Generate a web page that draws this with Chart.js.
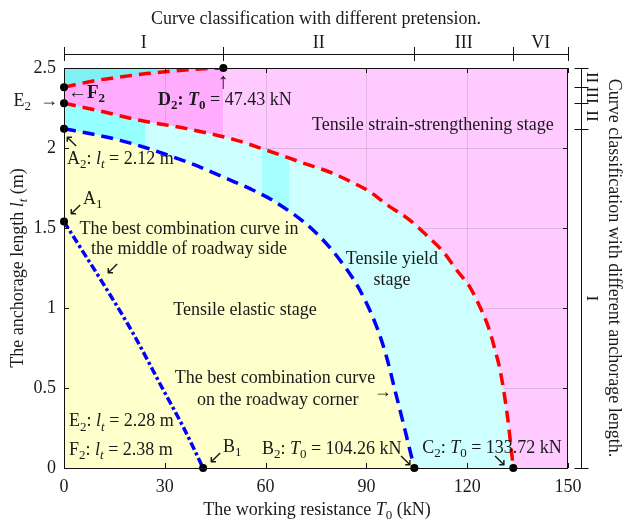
<!DOCTYPE html>
<html>
<head>
<meta charset="utf-8">
<script src="https://cdn.jsdelivr.net/npm/chart.js@4.4.1/dist/chart.umd.min.js"></script>
<style>
  html, body { margin: 0; padding: 0; background: #fff; }
  canvas { display: block; }
</style>
</head>
<body>
<canvas id="c" width="625" height="522"></canvas>
<script>
// Working resistance T0 (kN) against anchorage length lt (m)
const xTicks = [0, 30, 60, 90, 120, 150];
const yTicks = [0, 0.5, 1, 1.5, 2, 2.5];

// Upper boundary of the strain-strengthening band (F2 -> D2)
const curveF2D2_T = [0, 8.7, 16.7, 24.6, 32.5, 40.5, 47.43];
const curveF2D2_L = [2.38, 2.419, 2.444, 2.465, 2.481, 2.494, 2.5];

// Boundary between yield and strain-strengthening stages (E2 -> C2)
const curveE2C2_T = [0, 9.7, 22.6, 36.5, 51.4, 60.3, 71.2, 79, 85.6, 91.1, 96.5, 103, 107.9, 112.9, 116.9, 120.8, 123.8, 126.3, 128.3, 129.9, 132.0, 133.72];
const curveE2C2_L = [2.28, 2.236, 2.173, 2.121, 2.048, 1.986, 1.906, 1.85, 1.787, 1.725, 1.64, 1.548, 1.454, 1.35, 1.236, 1.131, 1.006, 0.881, 0.736, 0.6, 0.32, 0];

// Best combination curve on the roadway corner (A2 -> B2)
const curveA2B2_T = [0, 8.7, 16.7, 24.6, 32.5, 40.5, 48.4, 56.3, 62.3, 74.2, 82.1, 88.1, 93.1, 96, 98.5, 101, 103.2, 104.26];
const curveA2B2_L = [2.12, 2.086, 2.048, 2.0, 1.944, 1.881, 1.809, 1.736, 1.67, 1.486, 1.30, 1.11, 0.88, 0.694, 0.486, 0.278, 0.09, 0];

// Best combination curve in the middle of roadway side (A1 -> B1)
const curveA1B1_T = [0, 4.8, 10.7, 20.6, 29.6, 35.5, 41.4];
const curveA1B1_L = [1.54, 1.38, 1.185, 0.84, 0.486, 0.256, 0];

// Key points
const keyNames = ['A1', 'A2', 'E2', 'F2', 'D2', 'B1', 'B2', 'C2'];
const keyT = [0, 0, 0, 0, 47.43, 41.4, 104.26, 133.72];
const keyL = [1.54, 2.12, 2.28, 2.38, 2.5, 0, 0, 0];

// Classification by pretension (top) and by anchorage length (right)
const pretensionBounds = [0, 47.43, 104.26, 133.72, 150];
const pretensionLabels = ['I', 'II', 'III', 'VI'];
const anchorBounds = [2.5, 2.38, 2.28, 2.12, 0];
const anchorLabels = ['II', 'III', 'II', 'I'];

const FAM = '"Liberation Serif", "Times New Roman", Times, serif';
const INK = '#1a1a1a';
const FS = 18;

const pts = (xs, ys) => xs.map((x, i) => ({ x, y: ys[i] }));
const key = (n) => keyNames.indexOf(n);
const fmt = (v) => v.toFixed(2);

// Text in rich parts: [text, flags] with flags i = italic, b = bold, s = subscript
function drawRich(ctx, parts, x, y, align, size) {
  const fontFor = (f) => {
    const sz = f.includes('s') ? Math.round(size * 0.7) : size;
    return (f.includes('i') ? 'italic ' : '') + (f.includes('b') ? 'bold ' : '') + sz + 'px ' + FAM;
  };
  let w = 0;
  parts.forEach(([t, f = '']) => { ctx.font = fontFor(f); w += ctx.measureText(t).width; });
  let cx = align === 'center' ? x - w / 2 : align === 'right' ? x - w : x;
  ctx.textAlign = 'left';
  ctx.textBaseline = 'middle';
  ctx.fillStyle = INK;
  parts.forEach(([t, f = '']) => {
    ctx.font = fontFor(f);
    ctx.fillText(t, cx, y + (f.includes('s') ? size * 0.32 : 0));
    cx += ctx.measureText(t).width;
  });
}

function drawRotated(ctx, parts, x, y, angle, size) {
  ctx.save();
  ctx.translate(x, y);
  ctx.rotate(angle);
  drawRich(ctx, parts, 0, 0, 'center', size);
  ctx.restore();
}

// Annotations anchored in data units (T in kN, l in m)
const notes = [
  { T: 1.19, L: 2.344, a: 'left', size: 19, p: [['←'], ['F', 'b'], ['2', 'bs']] },
  { T: -1.79, L: 2.294, a: 'right', p: [['E'], ['2', 's'], ['  →']] },
  { T: keyT[key('D2')], L: 2.41, a: 'center', size: 22, p: [['↑']] },
  { T: 27.98, L: 2.30, a: 'left', p: [['D', 'b'], ['2', 'bs'], [': ', 'b'], ['T', 'bi'], ['0', 'bs'], [' = ' + fmt(keyT[key('D2')]) + ' kN']] },
  { T: 2.38, L: 2.0375, a: 'center', p: [['↖']] },
  { T: 0.89, L: 1.931, a: 'left', p: [['A'], ['2', 's'], [': '], ['l', 'i'], ['t', 'is'], [' = ' + fmt(keyL[key('A2')]) + ' m']] },
  { T: 5.65, L: 1.681, a: 'left', p: [['A'], ['1', 's']] },
  { T: 3.57, L: 1.6125, a: 'center', p: [['↙']] },
  { T: 37.2, L: 1.494, a: 'center', p: [['The best combination curve in']] },
  { T: 37.2, L: 1.369, a: 'center', p: [['the middle of roadway side']] },
  { T: 14.29, L: 1.244, a: 'center', p: [['↙']] },
  { T: 53.87, L: 0.9875, a: 'center', p: [['Tensile elastic stage']] },
  { T: 109.8, L: 2.144, a: 'center', p: [['Tensile strain-strengthening stage']] },
  { T: 97.6, L: 1.306, a: 'center', p: [['Tensile yield']] },
  { T: 97.6, L: 1.175, a: 'center', p: [['stage']] },
  { T: 62.8, L: 0.5625, a: 'center', p: [['The best combination curve']] },
  { T: 63.6, L: 0.425, a: 'center', p: [['on the roadway corner']] },
  { T: 94.9, L: 0.475, a: 'center', p: [['→']] },
  { T: 1.5, L: 0.29, a: 'left', p: [['E'], ['2', 's'], [': '], ['l', 'i'], ['t', 'is'], [' = ' + fmt(keyL[key('E2')]) + ' m']] },
  { T: 1.5, L: 0.1125, a: 'left', p: [['F'], ['2', 's'], [': '], ['l', 'i'], ['t', 'is'], [' = ' + fmt(keyL[key('F2')]) + ' m']] },
  { T: 45.2, L: 0.0625, a: 'center', p: [['↙']] },
  { T: 47.3, L: 0.131, a: 'left', p: [['B'], ['1', 's']] },
  { T: 58.9, L: 0.119, a: 'left', p: [['B'], ['2', 's'], [': '], ['T', 'i'], ['0', 's'], [' = ' + fmt(keyT[key('B2')]) + ' kN']] },
  { T: 101.5, L: 0.044, a: 'center', p: [['↘']] },
  { T: 106.6, L: 0.125, a: 'left', p: [['C'], ['2', 's'], [': '], ['T', 'i'], ['0', 's'], [' = ' + fmt(keyT[key('C2')]) + ' kN']] },
  { T: keyT[key('C2')] - 4, L: 0.044, a: 'center', p: [['↘']] }
];

// Stage colours behind the curves
const PINK_DEEP = 'rgb(255,172,255)';
const PINK = 'rgb(255,202,255)';
const CYAN_TOP = 'rgb(128,240,244)';
const YELLOW = 'rgb(255,255,204)';

function cyanFill(c) {
  const ch = c.chart, xs = ch.scales && ch.scales.x;
  if (!ch.chartArea || !xs) return 'rgb(204,255,255)';
  const g = ch.ctx.createLinearGradient(xs.left, 0, xs.right, 0);
  const at = (T) => Math.min(1, Math.max(0, (xs.getPixelForValue(T) - xs.left) / (xs.right - xs.left)));
  const bands = [[0, 'rgb(150,255,255)'], [24, 'rgb(150,255,255)'], [24, 'rgb(204,255,255)'],
                 [59, 'rgb(204,255,255)'], [59, 'rgb(165,255,255)'], [67, 'rgb(165,255,255)'],
                 [67, 'rgb(205,255,255)'], [150, 'rgb(205,255,255)']];
  bands.forEach(([T, col]) => g.addColorStop(at(T), col));
  return g;
}

const stagePlugin = {
  id: 'stages',
  beforeDraw(chart) {
    const { ctx, chartArea: a, scales: { x } } = chart;
    const xd = x.getPixelForValue(keyT[key('D2')]);
    ctx.save();
    ctx.fillStyle = PINK_DEEP;
    ctx.fillRect(a.left, a.top, xd - a.left, a.bottom - a.top);
    ctx.fillStyle = PINK;
    ctx.fillRect(xd, a.top, a.right - xd, a.bottom - a.top);
    ctx.restore();
  },
  beforeDatasetsDraw(chart) {
    // faint grid over the stage fills, under the curves
    const { ctx, chartArea: a, scales: { x, y } } = chart;
    ctx.save();
    ctx.strokeStyle = 'rgba(110,110,110,0.22)';
    ctx.lineWidth = 1;
    ctx.beginPath();
    xTicks.slice(1, -1).forEach(t => { const p = Math.round(x.getPixelForValue(t)) + 0.5; ctx.moveTo(p, a.top); ctx.lineTo(p, a.bottom); });
    yTicks.slice(1, -1).forEach(t => { const p = Math.round(y.getPixelForValue(t)) + 0.5; ctx.moveTo(a.left, p); ctx.lineTo(a.right, p); });
    ctx.stroke();
    ctx.restore();
  },
  afterDatasetsDraw(chart) {
    const { ctx, chartArea: a, scales: { x, y } } = chart;
    ctx.save();
    // frame with inward ticks
    ctx.strokeStyle = '#111';
    ctx.lineWidth = 1;
    ctx.strokeRect(Math.round(a.left) + 0.5, Math.round(a.top) + 0.5, Math.round(a.right - a.left) - 1, Math.round(a.bottom - a.top));
    ctx.beginPath();
    xTicks.forEach(t => {
      const p = Math.round(x.getPixelForValue(t)) + 0.5;
      ctx.moveTo(p, a.bottom); ctx.lineTo(p, a.bottom - 5);
      ctx.moveTo(p, a.top); ctx.lineTo(p, a.top + 5);
    });
    yTicks.forEach(t => {
      const p = Math.round(y.getPixelForValue(t)) + 0.5;
      ctx.moveTo(a.left, p); ctx.lineTo(a.left + 5, p);
      ctx.moveTo(a.right, p); ctx.lineTo(a.right - 5, p);
    });
    ctx.stroke();

    // classification with different pretension (top)
    const yTop = a.top - 14;
    ctx.beginPath();
    ctx.moveTo(x.getPixelForValue(0), yTop + 0.5);
    ctx.lineTo(x.getPixelForValue(150), yTop + 0.5);
    pretensionBounds.forEach(t => {
      const p = Math.round(x.getPixelForValue(t)) + 0.5;
      ctx.moveTo(p, yTop - 7); ctx.lineTo(p, yTop + 7);
    });
    // classification with different anchorage length (right)
    const xR = a.right + 13.5;
    ctx.moveTo(xR, y.getPixelForValue(2.5));
    ctx.lineTo(xR, y.getPixelForValue(0));
    anchorBounds.forEach(l => {
      const p = Math.round(y.getPixelForValue(l)) + 0.5;
      ctx.moveTo(xR - 7, p); ctx.lineTo(xR + 7, p);
    });
    ctx.stroke();

    pretensionLabels.forEach((s, i) => {
      const cx = (x.getPixelForValue(pretensionBounds[i]) + x.getPixelForValue(pretensionBounds[i + 1])) / 2;
      drawRich(ctx, [[s]], cx, yTop - 11, 'center', FS);
    });
    anchorLabels.forEach((s, i) => {
      const cy = (y.getPixelForValue(anchorBounds[i]) + y.getPixelForValue(anchorBounds[i + 1])) / 2;
      drawRotated(ctx, [[s]], xR + 10, cy, Math.PI / 2, 17);
    });

    // titles
    const midY = (a.top + a.bottom) / 2;
    drawRich(ctx, [['Curve classification with different pretension.']], 316, 19, 'center', FS);
    drawRich(ctx, [['The working resistance '], ['T', 'i'], ['0', 's'], [' (kN)']], 317, 510, 'center', FS);
    drawRotated(ctx, [['The anchorage length '], ['l', 'i'], ['t', 'is'], [' (m)']], 18, midY, -Math.PI / 2, FS);
    drawRotated(ctx, [['Curve classification with different anchorage length.']], 614, midY, Math.PI / 2, FS);

    // annotations
    notes.forEach(n => drawRich(ctx, n.p, x.getPixelForValue(n.T), y.getPixelForValue(n.L), n.a, n.size || FS));
    ctx.restore();
  }
};

const lineBase = { pointRadius: 0, borderWidth: 3.5, cubicInterpolationMode: 'monotone', borderCapStyle: 'butt' };

new Chart(document.getElementById('c'), {
  type: 'line',
  data: {
    datasets: [
      { // key points
        data: pts(keyT, keyL), showLine: false, pointRadius: 4, pointHoverRadius: 4,
        pointBackgroundColor: '#000', pointBorderColor: '#000', pointBorderWidth: 0, fill: false, clip: false
      },
      { ...lineBase, data: pts(curveA1B1_T, curveA1B1_L), borderColor: '#0000ff', borderDash: [8, 3, 3, 3], fill: false },
      { ...lineBase, data: pts(curveA2B2_T, curveA2B2_L), borderColor: '#0000ff', borderDash: [12, 7],
        fill: 'origin', backgroundColor: YELLOW },
      { ...lineBase, data: pts(curveE2C2_T, curveE2C2_L), borderColor: '#ff0000', borderDash: [12, 7],
        fill: 'origin', backgroundColor: cyanFill },
      { ...lineBase, data: pts(curveF2D2_T, curveF2D2_L), borderColor: '#ff0000', borderDash: [12, 7],
        fill: 'end', backgroundColor: CYAN_TOP }
    ]
  },
  options: {
    responsive: false,
    animation: false,
    devicePixelRatio: 1,
    events: [],
    layout: { padding: { left: 0, right: 57, top: 68, bottom: 0 } },
    plugins: { legend: { display: false }, tooltip: { enabled: false } },
    scales: {
      x: {
        type: 'linear', min: 0, max: 150,
        afterFit: s => { s.height = 54; },
        afterBuildTicks: s => { s.ticks = xTicks.map(v => ({ value: v })); },
        ticks: { font: { family: FAM, size: FS }, color: INK, padding: 8, callback: v => String(v) },
        grid: { display: false, drawTicks: false },
        border: { display: false }
      },
      y: {
        type: 'linear', min: 0, max: 2.5,
        afterFit: s => { s.width = 64; },
        afterBuildTicks: s => { s.ticks = yTicks.map(v => ({ value: v })); },
        ticks: { font: { family: FAM, size: FS }, color: INK, padding: 8, callback: v => String(v) },
        grid: { display: false, drawTicks: false },
        border: { display: false }
      }
    }
  },
  plugins: [stagePlugin]
});
</script>
</body>
</html>
